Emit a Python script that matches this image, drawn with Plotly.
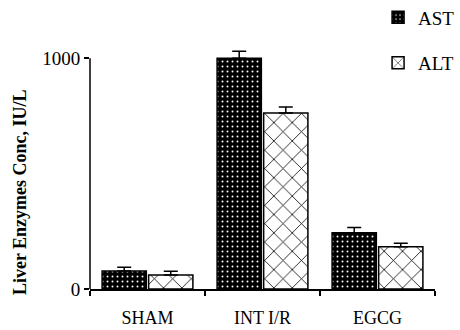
import plotly.graph_objects as go

categories = ["SHAM", "INT I/R", "EGCG"]
ast_values = [78, 1000, 244]
ast_errors = [16, 30, 23]
alt_values = [61, 763, 183]
alt_errors = [16, 26, 15]
y_ticks = [0, 1000]
y_max = 1040

font = "Liberation Serif, Times New Roman, serif"

fig = go.Figure()
fig.add_trace(go.Bar(
    x=categories, y=ast_values, name="AST", legendgroup="ast",
    marker=dict(color="black", line=dict(color="black", width=1.5),
                pattern=dict(shape=".", bgcolor="black", fgcolor="white",
                             size=5, solidity=0.12, fillmode="replace")),
    error_y=dict(type="data", array=ast_errors, arrayminus=[0, 0, 0],
                 symmetric=False, color="black", thickness=1.5, width=7),
))
fig.add_trace(go.Bar(
    x=categories, y=alt_values, name="ALT", legendgroup="alt",
    marker=dict(color="white", line=dict(color="black", width=1.5),
                pattern=dict(shape="x", bgcolor="white", fgcolor="black",
                             size=13, solidity=0.12, fillmode="replace")),
    error_y=dict(type="data", array=alt_errors, arrayminus=[0, 0, 0],
                 symmetric=False, color="black", thickness=1.5, width=7),
))

bottom_px = 289
px_per_unit = 231 / 1000
plot_h = y_max * px_per_unit
top_m = 330 - 41 - plot_h
plot_w = 460 - 90 - 25

fig.update_layout(
    width=460, height=330,
    margin=dict(l=90, r=25, t=top_m, b=41, autoexpand=False),
    paper_bgcolor="white", plot_bgcolor="white",
    barmode="group", bargap=0.19, bargroupgap=0.05,
    font=dict(family=font, size=19, color="black"),
    showlegend=True,
    legend=dict(x=0.835, y=(bottom_px + 2) / plot_h, xanchor="left", yanchor="top",
                font=dict(family=font, size=19), tracegroupgap=18,
                traceorder="grouped", bgcolor="rgba(0,0,0,0)",
                itemwidth=30),
)
fig.update_xaxes(
    showline=True, linecolor="black", linewidth=1.5,
    ticks="outside", tickson="boundaries", ticklen=5, tickwidth=1.5,
    tickcolor="black", ticklabelstandoff=12,
    tickfont=dict(family=font, size=18),
)
fig.update_yaxes(
    range=[0, y_max], showline=False,
    ticks="outside", ticklen=5, tickwidth=1.5, tickcolor="black",
    tickvals=y_ticks, ticktext=[str(v) for v in y_ticks],
    showgrid=False, zeroline=False,
    tickfont=dict(family=font, size=19),
)
# y axis line spanning only the labelled range
fig.add_shape(type="line", xref="paper", yref="y", x0=0, x1=0,
              y0=y_ticks[0], y1=y_ticks[-1],
              line=dict(color="black", width=1.5), layer="above")
fig.add_annotation(
    text="<b>Liver Enzymes Conc, IU/L</b>", textangle=-90,
    x=(20 - 90) / plot_w, y=(bottom_px - 192) / plot_h,
    xref="paper", yref="paper", xanchor="center", yanchor="middle",
    showarrow=False, font=dict(family=font, size=18),
)

fig.write_html("out.html", config={"displayModeBar": False},
               post_script="document.body.style.margin='0';document.body.style.overflow='hidden';")
